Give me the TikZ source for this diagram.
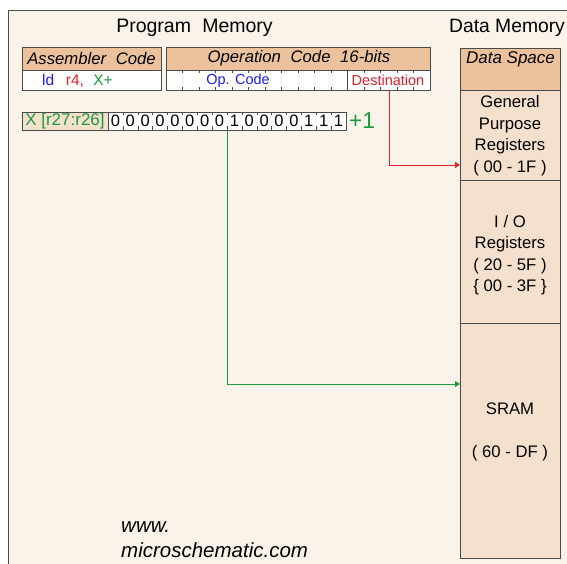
\documentclass[tikz,border=0pt]{standalone}
\usepackage{fontspec}
\setmainfont{Liberation Sans}
\usetikzlibrary{arrows.meta}
\definecolor{panelbg}{HTML}{FAF3EA}
\definecolor{headtan}{HTML}{EBC29C}
\definecolor{celltan}{HTML}{F4E0CD}
\definecolor{edge}{HTML}{4A4A4A}
\definecolor{opblue}{HTML}{1E1EF0}
\definecolor{opred}{HTML}{E0202A}
\definecolor{opgreen}{HTML}{1E9A3C}
\tikzset{
  x=1pt, y=-1pt,
  box/.style={draw=edge, line width=0.9pt},
  tick/.style={draw=edge, line width=0.5pt},
  link/.style={line width=0.9pt, -{Triangle[length=5pt,width=6pt]}},
  lbl/.style={inner sep=0pt, font=\fontsize{16.7}{19}\selectfont},
}
\begin{document}
\begin{tikzpicture}
\useasboundingbox (0,0) rectangle (567,563);
% background panel
\fill[white] (0,0) rectangle (567,563);
\filldraw[fill=panelbg, draw=edge, line width=0.9pt] (8,10) rectangle (580,580);

\node[lbl, font=\fontsize{19.5}{22}\selectfont] (pm) at (194.5,28) {Program\hspace{0.3em} Memory};
\node[lbl, font=\fontsize{19.3}{22}\selectfont] (dm) at (507,28) {Data Memory};

% assembler code
\filldraw[box, fill=headtan] (22,47) rectangle (161,70);
\filldraw[box, fill=white] (22,70) rectangle (161,90);
\node[lbl] (asmh) at (91.5,58.5) {\itshape Assembler\hspace{0.3em} Code};
\node[lbl, anchor=west, font=\fontsize{15.5}{17}\selectfont] (asm) at (42,80.5) {\color{opblue}ld\hspace{0.75em}\color{opred}r4,\hspace{0.6em}\color{opgreen}X+};

% operation code
\filldraw[box, fill=headtan] (166,47) rectangle (430,70);
\filldraw[box, fill=white] (166,70) rectangle (430,90);
\draw[box] (347.5,70) -- (347.5,90);
\foreach \i in {1,...,15} {
  \draw[tick] ({166+\i*16.5},70) -- ++(0,3);
  \draw[tick] ({166+\i*16.5},90) -- ++(0,-3);
}
\node[lbl] (oph) at (299,58.5) {\itshape Operation\hspace{0.3em} Code\hspace{0.3em} 16-bits};
\node[lbl, font=\fontsize{14.5}{16}\selectfont, text=opblue] (opc) at (238,80.5) {Op. Code};
\node[lbl, font=\fontsize{14.5}{16}\selectfont, text=opred] (dest) at (388,80.5) {Destination};
\coordinate (dsrc) at (389,90);

% X pointer register
\filldraw[box, fill=celltan] (22,112) rectangle (108,130);
\filldraw[box, fill=white] (108,112) rectangle (346,130);
\node[lbl, text=opgreen, font=\fontsize{17}{19}\selectfont] (xreg) at (65,121) {X [r27:r26]};
\foreach \b [count=\i from 0] in {0,0,0,0,0,0,0,0,1,0,0,0,0,1,1,1} {
  \node[lbl, font=\fontsize{16.5}{18}\selectfont] at ({108+(\i+0.5)*14.875},121) {\b};
}
\foreach \i in {1,...,15} {
  \draw[tick] ({108+\i*14.875},112) -- ++(0,3);
  \draw[tick] ({108+\i*14.875},130) -- ++(0,-4);
}
\node[lbl, text=opgreen, font=\fontsize{23}{25}\selectfont] (inc) at (362,121) {+1};
\coordinate (xsrc) at (227,130);

% data space column
\filldraw[box, fill=headtan] (460,48) rectangle (560,90);
\filldraw[box, fill=celltan] (460,90) rectangle (560,180);
\filldraw[box, fill=celltan] (460,180) rectangle (560,323);
\filldraw[box, fill=celltan] (460,323) rectangle (560,558);
\node[lbl, font=\fontsize{17}{19}\selectfont] (ds) at (510.5,59) {\itshape Data Space};
\node[lbl, align=center, font=\fontsize{16.7}{21.5}\selectfont] (gpr) at (510,135.5) {General\\Purpose\\Registers\\( 00 - 1F )};
\node[lbl, align=center, font=\fontsize{16.7}{21.5}\selectfont] (io) at (510,255) {I / O\\Registers\\( 20 - 5F )\\\{ 00 - 3F \}};
\node[lbl] (sram) at (510,409) {SRAM};
\node[lbl] (sramr) at (510,453) {( 60 - DF )};
\coordinate (gprin) at (460,165);
\coordinate (sramin) at (460,384);

% connectors
\draw[link, opred] (dsrc) |- (gprin);
\draw[link, opgreen] (xsrc) |- (sramin);

% footer
\node[lbl, anchor=west, font=\fontsize{20.5}{23}\selectfont\itshape] (www) at (121,527) {www.};
\node[lbl, anchor=west, font=\fontsize{20.5}{23}\selectfont\itshape] (site) at (121,550) {microschematic.com};
\end{tikzpicture}
\end{document}
